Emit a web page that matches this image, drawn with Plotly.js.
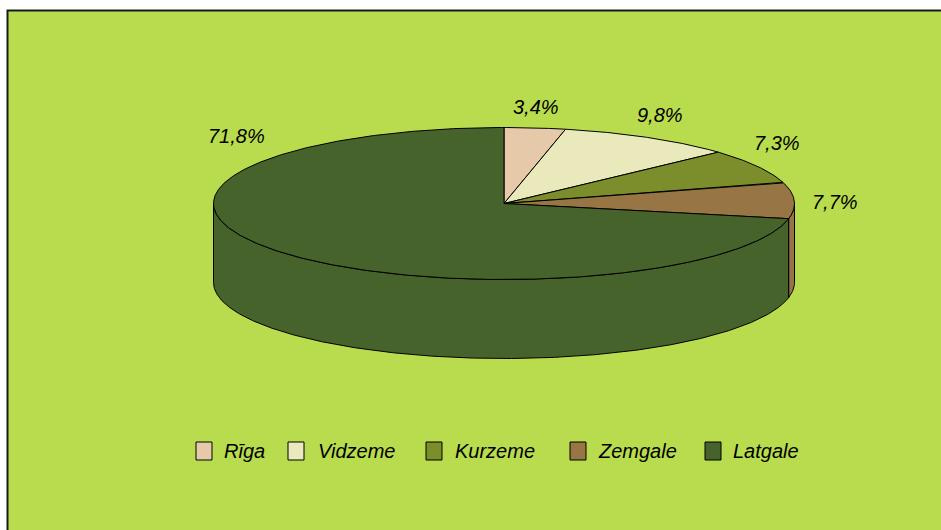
<!DOCTYPE html>
<html>
<head>
<meta charset="utf-8">
<script src="https://cdn.plot.ly/plotly-3.0.1.min.js"></script>
<style>html,body{margin:0;padding:0;background:#fff;}#chart{width:941px;height:530px;}</style>
</head>
<body>
<div id="chart"></div>
<script>
// ---- data ----
const categories = ['Rīga', 'Vidzeme', 'Kurzeme', 'Zemgale', 'Latgale'];
const shares = [3.4, 9.8, 7.3, 7.7, 71.8];
const colors = ['#e6c9a9', '#e9e9bc', '#7b8e2b', '#977545', '#46632b'];

// ---- layout constants (pixels) ----
const CX = 504, CY = 203.5, RX = 290.5, RY = 76, DEPTH = 79;
const labelPos = [[535.5, 107], [660, 114.5], [777, 143], [835, 202], [236, 135.5]];
const legendBoxX = [196, 288, 426, 570, 705];
const legendTextX = [222, 316, 453, 596, 731];
const legendY0 = 442, legendY1 = 460;

function pt(theta, dy) {
  const r = theta * Math.PI / 180;
  return [CX + RX * Math.sin(r), CY - RY * Math.cos(r) + (dy || 0)];
}
function arc(a0, a1, dy) {
  const xs = [], ys = [];
  const n = Math.max(2, Math.ceil(Math.abs(a1 - a0) / 0.5));
  for (let i = 0; i <= n; i++) {
    const p = pt(a0 + (a1 - a0) * i / n, dy);
    xs.push(p[0]); ys.push(p[1]);
  }
  return [xs, ys];
}

const total = shares.reduce((a, b) => a + b, 0);
const starts = [], ends = [];
let acc = 0;
shares.forEach(v => { starts.push(acc / total * 360); acc += v; ends.push(acc / total * 360); });

const traces = [];
// side walls (front half only: 90..270 deg)
categories.forEach((c, i) => {
  const s = Math.max(starts[i], 90), e = Math.min(ends[i], 270);
  if (e <= s) return;
  const top = arc(s, e, 0), bot = arc(e, s, DEPTH);
  traces.push({
    type: 'scatter', mode: 'lines', fill: 'toself',
    x: top[0].concat(bot[0], [top[0][0]]),
    y: top[1].concat(bot[1], [top[1][0]]),
    fillcolor: colors[i], line: {color: '#000', width: 1},
    hoverinfo: 'skip', showlegend: false
  });
});
// top faces
categories.forEach((c, i) => {
  const a = arc(starts[i], ends[i], 0);
  traces.push({
    type: 'scatter', mode: 'lines', fill: 'toself',
    x: [CX].concat(a[0], [CX]),
    y: [CY].concat(a[1], [CY]),
    fillcolor: colors[i], line: {color: '#000', width: 1},
    name: c, hoverinfo: 'skip', showlegend: false
  });
});

const fontMain = {family: '"Liberation Sans", Arial, sans-serif', size: 20, color: '#000', style: 'italic'};
const annotations = [];
const shapes = [{
  type: 'rect', xref: 'x', yref: 'y', x0: 7.5, x1: 960, y0: 10.5, y1: 560,
  fillcolor: '#b8dc4e', line: {color: '#1a1a1a', width: 2}, layer: 'below'
}];
categories.forEach((c, i) => {
  annotations.push({
    x: labelPos[i][0], y: labelPos[i][1], xref: 'x', yref: 'y',
    text: shares[i].toFixed(1).replace('.', ',') + '%', showarrow: false,
    xanchor: 'center', yanchor: 'middle', font: fontMain
  });
  shapes.push({
    type: 'rect', xref: 'x', yref: 'y', x0: legendBoxX[i], x1: legendBoxX[i] + 16,
    y0: legendY0, y1: legendY1, fillcolor: colors[i], line: {color: '#000', width: 1}
  });
  annotations.push({
    x: legendTextX[i], y: (legendY0 + legendY1) / 2, xref: 'x', yref: 'y',
    text: c, showarrow: false, xanchor: 'left', yanchor: 'middle', font: fontMain
  });
});

const layout = {
  width: 941, height: 530,
  margin: {l: 6, r: 0, t: 9, b: 0, pad: 0},
  paper_bgcolor: '#ffffff', plot_bgcolor: '#ffffff',
  xaxis: {range: [6, 941], visible: false, fixedrange: true},
  yaxis: {range: [530, 9], visible: false, fixedrange: true},
  showlegend: false,
  shapes: shapes, annotations: annotations
};
Plotly.newPlot('chart', traces, layout, {displayModeBar: false, staticPlot: true});
</script>
</body>
</html>
